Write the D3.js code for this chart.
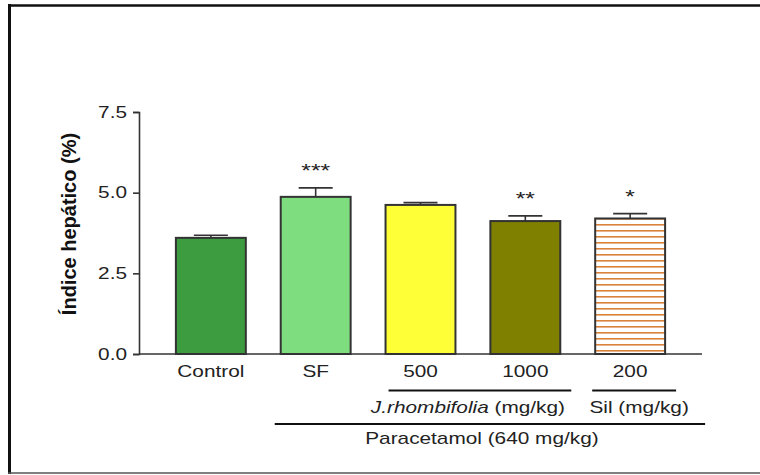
<!DOCTYPE html>
<html>
<head>
<meta charset="utf-8">
<script src="https://cdn.jsdelivr.net/npm/d3@7"></script>
<style>
  body { margin: 0; background: #fff; }
  svg { display: block; font-family: "Liberation Sans", Arial, sans-serif; }
</style>
</head>
<body>
<svg id="chart" width="760" height="475"></svg>
<script>
// values
const categories = ['Control', 'SF', '500', '1000', '200'];
const means = [3.60, 4.87, 4.62, 4.12, 4.20];
const errors = [0.08, 0.28, 0.07, 0.16, 0.15];
const stars = ['', '***', '', '**', '*'];
const yTicks = [0, 2.5, 5.0, 7.5];

const barFills = ['#3e9c40', '#7edd7e', '#ffff38', '#7f7f00', 'url(#stripes)'];
const SX = 1.3; // the picture is stretched sideways

const svg = d3.select('#chart');

// frame
svg.append('line').attr('x1', 9.5).attr('x2', 9.5).attr('y1', 4).attr('y2', 474)
  .attr('stroke', '#111').attr('stroke-width', 3);
svg.append('line').attr('x1', 8).attr('x2', 760).attr('y1', 5.5).attr('y2', 5.5)
  .attr('stroke', '#111').attr('stroke-width', 2.5);
svg.append('line').attr('x1', 8).attr('x2', 760).attr('y1', 473).attr('y2', 473)
  .attr('stroke', '#555').attr('stroke-width', 1.5);

// stripes for Sil
const pat = svg.append('defs').append('pattern')
  .attr('id', 'stripes').attr('patternUnits', 'userSpaceOnUse')
  .attr('width', 8).attr('height', 6);
pat.append('rect').attr('width', 8).attr('height', 6).attr('fill', '#fff');
pat.append('rect').attr('y', 2).attr('width', 8).attr('height', 1.6).attr('fill', '#d9823a');

const x = d3.scaleBand().domain(categories).range([139, 702])
  .paddingInner(0.333).paddingOuter(0.352);
const y = d3.scaleLinear().domain([0, 7.5]).range([354, 112]);
const bw = x.bandwidth();

function label(g, px, py, txt, opts = {}) {
  return g.append('text')
    .attr('transform', `translate(${px},${py}) scale(${SX},1)`)
    .attr('text-anchor', opts.anchor || 'middle')
    .attr('font-size', opts.size || 16)
    .attr('fill', '#222')
    .text(txt);
}

// y axis
const yAxis = svg.append('g').attr('transform', 'translate(139,0)')
  .call(d3.axisLeft(y).tickValues(yTicks).tickSize(6).tickFormat(() => ''));
yAxis.select('.domain').attr('stroke', '#333').attr('stroke-width', 1.6);
yAxis.selectAll('.tick line').attr('stroke', '#333').attr('stroke-width', 1.6);
yTicks.forEach(t => label(svg, 127, y(t) + 5.5, d3.format('.1f')(t), { anchor: 'end' }));

svg.append('text')
  .attr('transform', `translate(76,224) rotate(-90)`)
  .attr('text-anchor', 'middle')
  .attr('font-size', 20).attr('font-weight', 'bold').attr('fill', '#111')
  .text('Índice hepático (%)');

// bars
const bars = svg.append('g');
categories.forEach((c, i) => {
  const x0 = x(c), cx = x0 + bw / 2;
  bars.append('rect')
    .attr('x', x0).attr('y', y(means[i]))
    .attr('width', bw).attr('height', y(0) - y(means[i]))
    .attr('fill', barFills[i]).attr('stroke', '#333').attr('stroke-width', 2);
  const top = y(means[i] + errors[i]);
  bars.append('line').attr('x1', cx).attr('x2', cx)
    .attr('y1', y(means[i])).attr('y2', top)
    .attr('stroke', '#333').attr('stroke-width', 1.6);
  bars.append('line').attr('x1', cx - 17).attr('x2', cx + 17)
    .attr('y1', top).attr('y2', top)
    .attr('stroke', '#333').attr('stroke-width', 1.6);
  if (stars[i]) label(bars, cx, top - 11, stars[i], { size: 19 });
  label(svg, cx, 377, c);
});

// x axis line
svg.append('line').attr('x1', 139).attr('x2', 702).attr('y1', y(0)).attr('y2', y(0))
  .attr('stroke', '#333').attr('stroke-width', 1.6);

// group brackets
const line = (x1, x2, yy) => svg.append('line').attr('x1', x1).attr('x2', x2)
  .attr('y1', yy).attr('y2', yy).attr('stroke', '#111').attr('stroke-width', 2);

line(x('500') + 3, x('1000') + bw + 11, 390.5);
line(x('200') - 3, x('200') + bw + 11, 390.5);
line(x('SF') - 6, x('200') + bw + 40, 424);

const jr = label(svg, (x('500') + x('1000') + bw) / 2 - 5, 413, '');
jr.append('tspan').attr('font-style', 'italic').text('J.rhombifolia');
jr.append('tspan').text(' (mg/kg)');
label(svg, x('200') + bw / 2 + 9, 413, 'Sil (mg/kg)');
label(svg, (x('SF') + x('200') + bw) / 2 + 9, 444, 'Paracetamol (640 mg/kg)');
</script>
</body>
</html>
